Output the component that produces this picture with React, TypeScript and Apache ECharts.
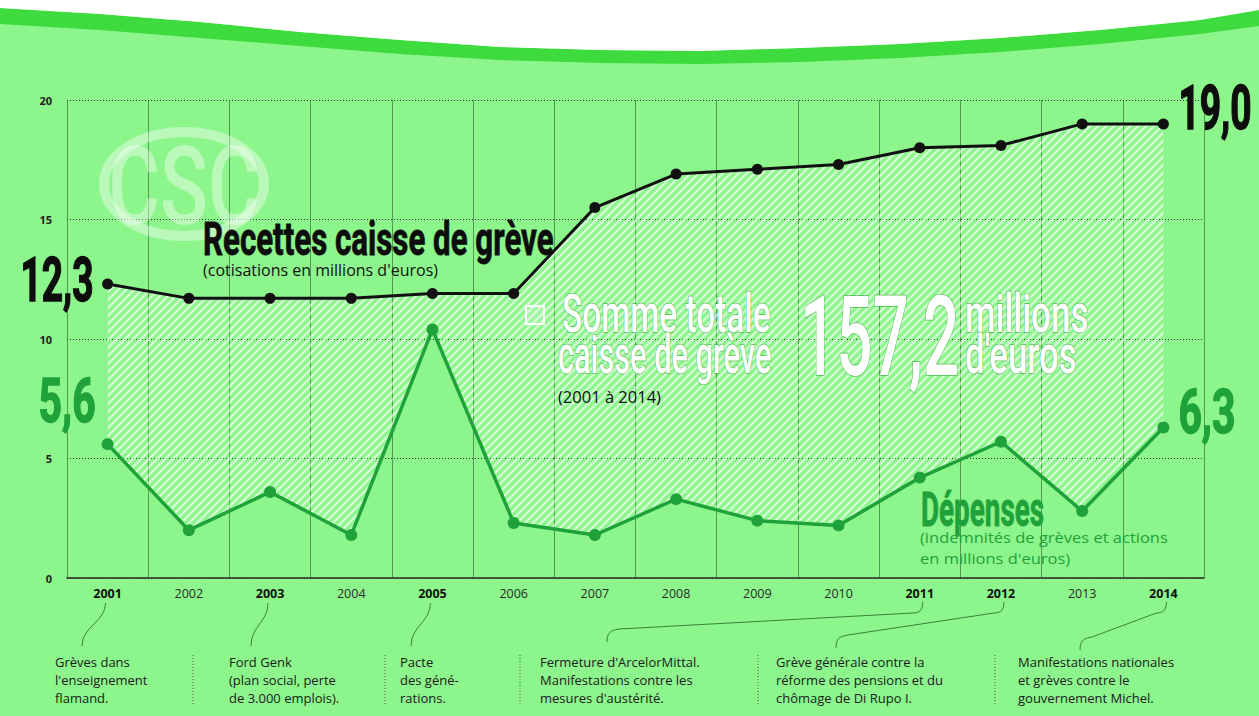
import React, { useEffect, useRef } from 'react';
import * as echarts from 'echarts';

const years = ['2001', '2002', '2003', '2004', '2005', '2006', '2007', '2008', '2009', '2010', '2011', '2012', '2013', '2014'];
const boldYears = ['2001', '2003', '2005', '2011', '2012', '2014'];
const recettes = [12.3, 11.7, 11.7, 11.7, 11.9, 11.9, 15.5, 16.9, 17.1, 17.3, 18.0, 18.1, 19.0, 19.0];
const depenses = [5.6, 2.0, 3.6, 1.8, 10.4, 2.3, 1.8, 3.3, 2.4, 2.2, 4.2, 5.7, 2.8, 6.3];
const yMin = 0;
const yMax = 20;
const yStep = 5;
const totalLabel = '157,2';

const eventYears = ['2001', '2003', '2005', '2011', '2012', '2014'];
const eventTexts = [
  ['Grèves dans', "l'enseignement", 'flamand.'],
  ['Ford Genk', '(plan social, perte', 'de 3.000 emplois).'],
  ['Pacte', 'des géné-', 'rations.'],
  ["Fermeture d'ArcelorMittal.", 'Manifestations contre les', "mesures d'austérité."],
  ['Grève générale contre la', 'réforme des pensions et du', 'chômage de Di Rupo I.'],
  ['Manifestations nationales', 'et grèves contre le', 'gouvernement Michel.'],
];

// layout constants
const eventX = [55, 229, 400, 540, 776, 1018];
const sepX = [193, 385, 520, 758, 995];
const connectorEnd = [
  [82, 646],
  [251, 646],
  [411, 646],
  [607, 642],
  [836, 648],
  [1080, 650],
];

const BG = '#8cf58c';
const GREEN = '#1fa23a';

export default function App() {
  const ref = useRef<HTMLDivElement>(null);
  useEffect(() => {
    const el = ref.current!;
    const chart = echarts.init(el, null, { renderer: 'svg' });

    const tile = document.createElement('canvas');
    tile.width = 8;
    tile.height = 8;
    const c = tile.getContext('2d')!;
    c.strokeStyle = 'rgba(255,255,255,0.58)';
    c.lineWidth = 2.6;
    c.beginPath();
    c.moveTo(-2, 10); c.lineTo(10, -2);
    c.moveTo(-2, 2); c.lineTo(2, -2);
    c.moveTo(6, 10); c.lineTo(10, 6);
    c.stroke();
    const hatch: any = { image: tile, repeat: 'repeat', imageWidth: 8, imageHeight: 8 };

    const gap = recettes.map((r, i) => +(r - depenses[i]).toFixed(2));

    chart.setOption({
      animation: false,
      backgroundColor: BG,
      grid: { left: 67, right: 55, top: 100, bottom: 138, containLabel: false },
      xAxis: {
        type: 'category',
        data: years,
        boundaryGap: true,
        axisTick: { show: false },
        axisLine: { lineStyle: { color: '#2a2a2a', width: 1.5 } },
        splitLine: { show: true, lineStyle: { color: 'rgba(30,80,30,0.55)', width: 1 } },
        axisLabel: {
          margin: 9,
          formatter: (v: string) => (boldYears.includes(v) ? `{b|${v}}` : `{n|${v}}`),
          rich: {
            b: { fontFamily: 'Open Sans', fontWeight: 'bold', fontSize: 12.5, color: '#111' },
            n: { fontFamily: 'Open Sans', fontWeight: 'normal', fontSize: 12.5, color: '#2a2a2a' },
          },
        },
      },
      yAxis: {
        type: 'value',
        min: yMin,
        max: yMax,
        interval: yStep,
        axisLine: { show: false },
        axisTick: { show: false },
        axisLabel: { margin: 15, fontFamily: 'Open Sans', fontWeight: 'bold', fontSize: 11, color: '#222' },
        splitLine: { show: true, lineStyle: { color: '#333', type: [1, 2], width: 1 } },
      },
      series: [
        { name: 'base', type: 'line', data: depenses, stack: 'band', symbol: 'none', silent: true, lineStyle: { opacity: 0 }, z: 1 },
        { name: 'band', type: 'line', data: gap, stack: 'band', symbol: 'none', silent: true, lineStyle: { opacity: 0 }, areaStyle: { color: hatch, opacity: 1 }, z: 1 },
        { name: 'Recettes', type: 'line', data: recettes, symbol: 'circle', symbolSize: 11, itemStyle: { color: '#111' }, lineStyle: { color: '#111', width: 3 }, z: 4 },
        { name: 'Dépenses', type: 'line', data: depenses, symbol: 'circle', symbolSize: 12, itemStyle: { color: GREEN }, lineStyle: { color: GREEN, width: 3.5 }, z: 4 },
      ],
    });

    const px = (i: number, v: number) => chart.convertToPixel({ gridIndex: 0 }, [years[i], v]) as number[];
    const fmt = (v: number) => v.toFixed(1).replace('.', ',');

    const T = (text: string, x: number, y: number, o: any = {}) => ({
      type: 'text',
      x,
      y,
      scaleX: o.sx ?? 1,
      z: o.z ?? 20,
      silent: true,
      style: {
        text,
        fill: o.fill ?? '#111',
        fontSize: o.size ?? 13,
        fontWeight: o.weight ?? 'normal',
        fontFamily: o.family ?? 'Open Sans',
        textAlign: o.align ?? 'left',
        align: o.align ?? 'left',
        textVerticalAlign: 'middle',
        verticalAlign: 'middle',
        stroke: o.stroke,
        lineWidth: o.lw ?? 0,
      },
    });

    const last = years.length - 1;
    const r0 = px(0, recettes[0]);
    const rN = px(last, recettes[last]);
    const d0 = px(0, depenses[0]);
    const dN = px(last, depenses[last]);
    const big = { size: 62, weight: 'bold', family: 'Roboto', sx: 0.6, lw: 1.5 };
    const white = { size: 53, weight: 500, family: 'Roboto', fill: '#ffffff', stroke: 'rgba(40,160,40,0.7)', lw: 1.5 };

    const topCurve = [[0, 8], [100, 14], [200, 22], [300, 32], [400, 40], [500, 47], [600, 50], [700, 51], [800, 48], [900, 44], [1000, 38], [1100, 30], [1200, 20], [1259, 10]];
    const botCurve = [[0, 24], [100, 30], [200, 38], [300, 46], [400, 54], [500, 60], [600, 63], [700, 64], [800, 62], [900, 58], [1000, 52], [1100, 44], [1200, 34], [1259, 26]];

    const graphics: any[] = [
      { type: 'polygon', z: 0, silent: true, shape: { points: [...topCurve, ...botCurve.slice().reverse()] }, style: { fill: '#3ddb3d' } },
      { type: 'polygon', z: 0, silent: true, shape: { points: [[0, 0], [1259, 0], ...topCurve.slice().reverse()] }, style: { fill: '#ffffff' } },
      // CSC logo
      { type: 'ellipse', z: 0, silent: true, shape: { cx: 184, cy: 184, rx: 80, ry: 52 }, style: { fill: 'none', stroke: 'rgba(255,255,255,0.4)', lineWidth: 10 } },
      { type: 'text', z: 0, silent: true, x: 184, y: 186, scaleX: 0.72, style: { text: 'CSC', fill: 'rgba(255,255,255,0.4)', fontSize: 110, fontWeight: 500, fontFamily: 'Roboto', textAlign: 'center', align: 'center', textVerticalAlign: 'middle', verticalAlign: 'middle' } },
      // data labels
      T(fmt(recettes[0]), r0[0] - 14, r0[1] - 4, { ...big, fill: '#0d0d0d', stroke: '#0d0d0d', align: 'right' }),
      T(fmt(recettes[last]), rN[0] + 15, rN[1] - 16, { ...big, fill: '#0d0d0d', stroke: '#0d0d0d' }),
      T(fmt(depenses[0]), d0[0] - 12, d0[1] - 43, { ...big, sx: 0.66, fill: GREEN, stroke: GREEN, align: 'right' }),
      T(fmt(depenses[last]), dN[0] + 15, dN[1] - 16, { ...big, sx: 0.66, fill: GREEN, stroke: GREEN }),
      // titles
      T('Recettes caisse de grève', 203, 240, { size: 46, weight: 'bold', family: 'Roboto', sx: 0.68, fill: '#0d0d0d', stroke: '#0d0d0d', lw: 0.8 }),
      T("(cotisations en millions d'euros)", 203, 270, { size: 16, fill: '#111' }),
      { type: 'rect', z: 20, silent: true, shape: { x: 526, y: 306, width: 18, height: 18 }, style: { fill: 'rgba(255,255,255,0.15)', stroke: '#ffffff', lineWidth: 2 } },
      T('Somme totale', 562, 314, { ...white, sx: 0.63 }),
      T('caisse de grève', 558, 355, { ...white, sx: 0.58 }),
      T(totalLabel, 800, 336, { ...white, size: 112, sx: 0.57 }),
      T('millions', 965, 314, { ...white, sx: 0.66 }),
      T("d'euros", 965, 355, { ...white, sx: 0.655 }),
      T('(2001 à 2014)', 558, 396, { size: 16.5, fill: '#111' }),
      T('Dépenses', 921, 510, { size: 48, weight: 'bold', family: 'Roboto', sx: 0.58, fill: GREEN, stroke: GREEN, lw: 0.8 }),
      T('(indemnités de grèves et actions', 920, 537, { size: 15, sx: 1.1, fill: GREEN }),
      T("en millions d'euros)", 920, 558, { size: 15, sx: 1.1, fill: GREEN }),
    ];

    // bottom annotations
    eventTexts.forEach((lines, k) => {
      lines.forEach((ln, j) => graphics.push(T(ln, eventX[k], 662 + 18 * j, { size: 13, fill: '#1a1a1a' })));
    });
    sepX.forEach((x) => graphics.push({ type: 'line', silent: true, z: 10, shape: { x1: x, y1: 655, x2: x, y2: 706 }, style: { stroke: '#555', lineWidth: 1, lineDash: [1, 2] } }));

    const connStyle = { stroke: 'rgba(40,110,40,0.85)', lineWidth: 1, fill: 'none' };
    eventYears.forEach((yr, k) => {
      const sx = px(years.indexOf(yr), 0)[0];
      const [ex, ey] = connectorEnd[k];
      if (k < 3) {
        const x0 = sx - 2;
        graphics.push({ type: 'bezierCurve', silent: true, z: 10, shape: { x1: x0, y1: 603, cpx1: x0, cpy1: 622, cpx2: ex, cpy2: 626, x2: ex, y2: ey }, style: connStyle });
      } else {
        const x0 = sx + 3;
        const ax = x0 - 10;
        const ay = 613;
        const bx = ex + 12;
        const by = ey - 13;
        graphics.push({ type: 'bezierCurve', silent: true, z: 10, shape: { x1: x0, y1: 602, cpx1: x0, cpy1: 610, cpx2: x0 - 3, cpy2: ay, x2: ax, y2: ay }, style: connStyle });
        graphics.push({ type: 'line', silent: true, z: 10, shape: { x1: ax, y1: ay, x2: bx, y2: by }, style: connStyle });
        graphics.push({ type: 'bezierCurve', silent: true, z: 10, shape: { x1: bx, y1: by, cpx1: ex + 3, cpy1: by + 1.5, cpx2: ex, cpy2: by + 4, x2: ex, y2: ey }, style: connStyle });
      }
    });

    chart.setOption({ graphic: graphics });

    return () => chart.dispose();
  }, []);

  return <div ref={ref} style={{ position: 'absolute', left: 0, top: 0, width: 1259, height: 716 }} />;
}
